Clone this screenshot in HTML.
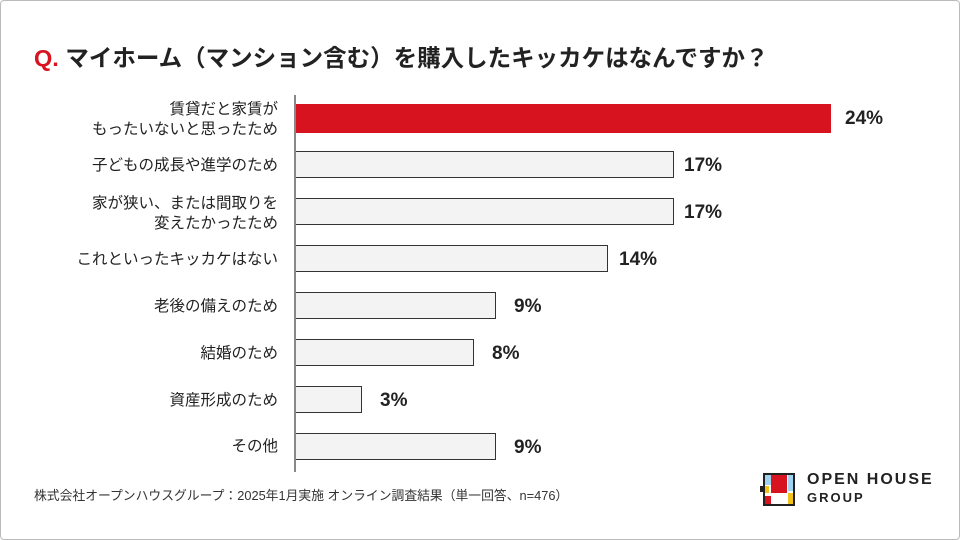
<!DOCTYPE html>
<html><head><meta charset="utf-8"><style>
body{margin:0;width:960px;height:540px;background:#fff;overflow:hidden;font-family:"Liberation Sans","Noto Sans CJK JP",sans-serif;position:relative}
.frame{position:absolute;left:0;top:0;width:958px;height:538px;border:1px solid #bbb;border-radius:4px}
.title{position:absolute;left:34px;top:39px;font-size:23.5px;font-weight:bold;color:#222;white-space:nowrap}
.title span{color:#d7131f}
.axis{position:absolute;left:294px;top:95px;width:2px;height:377px;background:#888}
.bar{position:absolute;left:296px;height:25px;background:#f3f3f3;border:1px solid #333;border-left:none}
.bar.red{background:#d7131f;border-color:#d7131f}
.lab{position:absolute;right:682px;font-size:15.5px;color:#222;text-align:right;line-height:20px;white-space:nowrap}
.pct{position:absolute;font-size:19px;font-weight:bold;color:#222}
.foot{position:absolute;left:34px;top:485px;font-size:12.8px;color:#333;white-space:nowrap}
.logo{position:absolute;left:760px;top:473px}
.lt{position:absolute;left:807px;font-weight:bold;color:#222;letter-spacing:2px}
</style></head><body>
<div class="frame"></div>
<div class="title"><span>Q.</span> マイホーム（マンション含む）を購入したキッカケはなんですか？</div>
<div class="axis"></div>

<div class="lab" style="top:100px">賃貸だと家賃が<br>もったいないと思ったため</div>
<div class="bar red" style="top:104px;width:534px;height:27px"></div>
<div class="pct" style="left:845px;top:108px">24%</div>

<div class="lab" style="top:156px">子どもの成長や進学のため</div>
<div class="bar" style="top:151px;width:377px"></div>
<div class="pct" style="left:684px;top:155px">17%</div>

<div class="lab" style="top:194px">家が狭い、または間取りを<br>変えたかったため</div>
<div class="bar" style="top:198px;width:377px"></div>
<div class="pct" style="left:684px;top:202px">17%</div>

<div class="lab" style="top:250px">これといったキッカケはない</div>
<div class="bar" style="top:245px;width:311px"></div>
<div class="pct" style="left:619px;top:249px">14%</div>

<div class="lab" style="top:297px">老後の備えのため</div>
<div class="bar" style="top:292px;width:199px"></div>
<div class="pct" style="left:514px;top:296px">9%</div>

<div class="lab" style="top:344px">結婚のため</div>
<div class="bar" style="top:339px;width:177px"></div>
<div class="pct" style="left:492px;top:343px">8%</div>

<div class="lab" style="top:391px">資産形成のため</div>
<div class="bar" style="top:386px;width:65px"></div>
<div class="pct" style="left:380px;top:390px">3%</div>

<div class="lab" style="top:437px">その他</div>
<div class="bar" style="top:433px;width:199px"></div>
<div class="pct" style="left:514px;top:437px">9%</div>

<div class="foot">株式会社オープンハウスグループ：2025年1月実施 オンライン調査結果（単一回答、n=476）</div>

<svg class="logo" width="36" height="34" viewBox="0 0 36 34">
<rect x="4" y="1" width="30" height="31" fill="#fff" stroke="#222" stroke-width="2"/>
<rect x="5" y="2" width="6" height="10" fill="#9fd3f0"/>
<rect x="11" y="2" width="16" height="18" fill="#d7131f"/>
<rect x="28" y="2" width="5" height="16" fill="#9fd3f0"/>
<rect x="5" y="13" width="4" height="7" fill="#f2c21b"/>
<rect x="5" y="23" width="6" height="8" fill="#d7131f"/>
<rect x="28" y="20" width="5" height="11" fill="#f2c21b"/>
<rect x="0" y="13" width="5" height="6" fill="#222"/>
</svg>
<div class="lt" style="top:471px;font-size:16px">OPEN HOUSE</div>
<div class="lt" style="top:490px;font-size:13px">GROUP</div>
</body></html>
